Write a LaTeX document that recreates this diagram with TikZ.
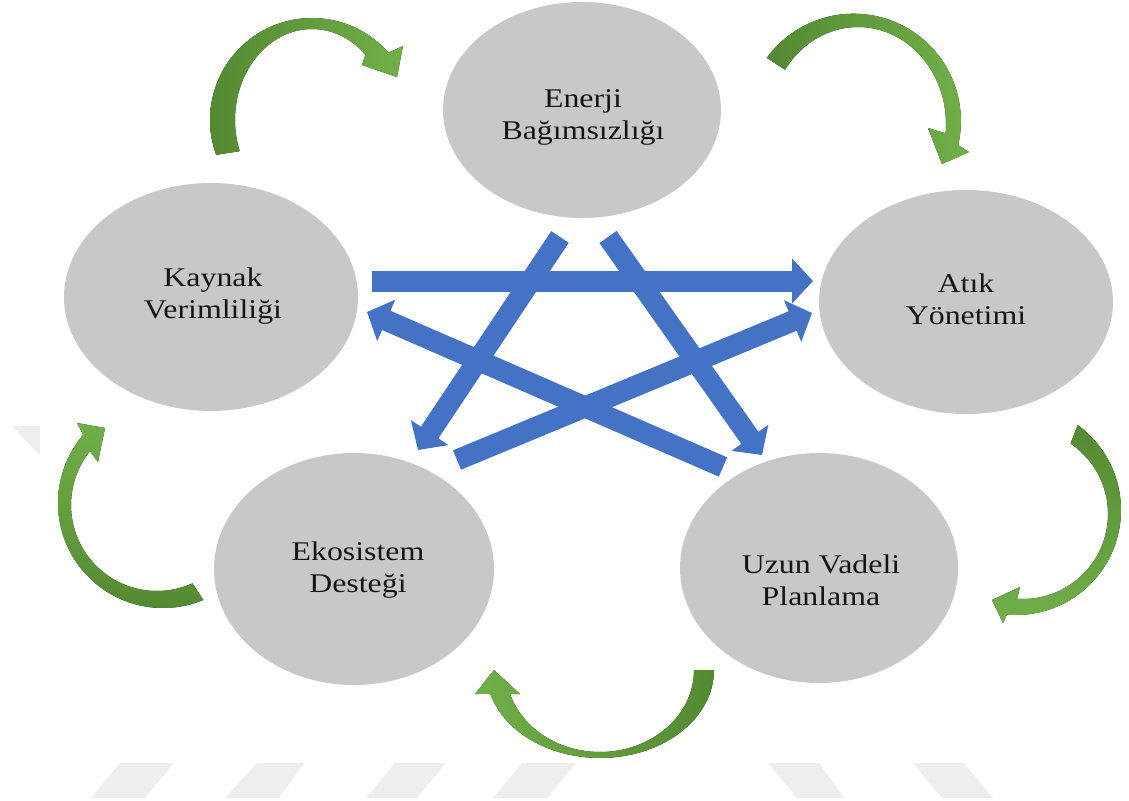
\documentclass[tikz,border=0pt]{standalone}
\usepackage{fontspec}
\setmainfont{Liberation Serif}[FakeStretch=1.18]
\usetikzlibrary{shapes.geometric,arrows.meta}
\definecolor{ellgray}{RGB}{200,200,200}
\definecolor{bluec}{RGB}{68,114,196}
\definecolor{gdark}{RGB}{84,138,50}
\definecolor{glight}{RGB}{112,176,72}
\definecolor{wm}{RGB}{238,238,238}
\definecolor{txt}{RGB}{20,20,20}
\begin{document}
\begin{tikzpicture}[x=1pt,y=-1pt,
  ell/.style={ellipse, fill=ellgray, inner sep=0pt},
  lbl/.style={align=center, text=txt, inner sep=0pt, font=\fontsize{27}{32}\selectfont},
  blu/.style={draw=bluec, line width=21pt, -{Triangle[length=21pt,width=44pt]}},
  wmark/.style={fill=wm}]
\useasboundingbox (0,0) rectangle (1129,800);

% watermark remnants
\fill[wmark] (91,798)--(145,798)--(174,763)--(120,763)--cycle;
\fill[wmark] (225,798)--(279,798)--(304,763)--(257,763)--cycle;
\fill[wmark] (366,798)--(417,798)--(446,763)--(395,763)--cycle;
\fill[wmark] (493,798)--(547,798)--(576,763)--(522,763)--cycle;
\fill[wmark] (797,798)--(844,798)--(819,763)--(768,763)--cycle;
\fill[wmark] (942,798)--(993,798)--(964,763)--(913,763)--cycle;
\fill[wmark] (12,426)--(40,426)--(40,456)--cycle;

% ellipses
\node[ell, minimum width=278pt, minimum height=216pt] (E) at (582,110) {};
\node[ell, minimum width=294pt, minimum height=228pt] (K) at (211,297) {};
\node[ell, minimum width=294pt, minimum height=224pt] (A) at (966,302) {};
\node[ell, minimum width=280pt, minimum height=232pt] (D) at (354,569) {};
\node[ell, minimum width=278pt, minimum height=230pt] (U) at (819,568) {};
\node[lbl] (Et) at (583,117) {Enerji\\Bağımsızlığı};
\node[lbl] (Kt) at (213,296) {Kaynak\\Verimliliği};
\node[lbl] (At) at (966,299) {Atık\\Yönetimi};
\node[lbl] (Dt) at (358,570) {Ekosistem\\Desteği};
\node[lbl] (Ut) at (821,580) {Uzun Vadeli\\Planlama};

% blue arrow end points
\coordinate (k1) at (372,281); \coordinate (a1) at (813,281);
\coordinate (e1) at (560,237); \coordinate (d1) at (418,450);
\coordinate (e2) at (608,237); \coordinate (u1) at (762,455);
\coordinate (u2) at (723,467); \coordinate (k2) at (367,312);
\coordinate (d2) at (457,460); \coordinate (a2) at (812,313);

\draw[blu] (e1) -- (d1);
\draw[blu] (e2) -- (u1);
\draw[blu] (u2) -- (k2);
\draw[blu] (d2) -- (a2);
\draw[blu] (k1) -- (a1);

% green curved arrows
% K -> E
\fill[left color=gdark, right color=glight]
  plot[domain=160:318.7, samples=60] ({312+102*cos(\x)},{120+102*sin(\x)})
  -- (403,46) -- (397,77) -- (362,65)
  -- plot[domain=314:160, samples=60] ({312+77*cos(\x)},{120+91*sin(\x)}) -- cycle;
% E -> A
\fill[left color=gdark, right color=glight]
  plot[domain=216:373, samples=60] ({853.6+107.3*cos(\x)},{121+107.3*sin(\x)})
  -- (969,152) -- (942,164) -- (928,128)
  -- plot[domain=365.5:214, samples=60] ({858+88*cos(\x)},{124+97*sin(\x)}) -- cycle;
% A -> U
\fill[top color=gdark, bottom color=glight]
  plot[domain=-54:95, samples=60] ({1016+105*cos(\x)},{510+105*sin(\x)})
  -- (1003,623) -- (992,600) -- (1020,587)
  -- plot[domain=94:-56, samples=60] ({1023+85*cos(\x)},{514+85*sin(\x)}) -- cycle;
% U -> D
\fill[left color=glight, right color=gdark]
  plot[domain=0:164.2, samples=60] ({600+114*cos(\x)},{670+88*sin(\x)})
  -- (475,694) -- (494,670) -- (520,694)
  -- plot[domain=163:0, samples=60] ({600+94*cos(\x)},{670+82*sin(\x)}) -- cycle;
% D -> K
\fill[top color=glight, bottom color=gdark]
  plot[domain=67.4:220.6, samples=60] ({163+105*cos(\x)},{503+105*sin(\x)})
  -- (77,423) -- (105,428) -- (98,462)
  -- plot[domain=218.8:65.7, samples=60] ({157+86*cos(\x)},{505+86*sin(\x)}) -- cycle;
\end{tikzpicture}
\end{document}
